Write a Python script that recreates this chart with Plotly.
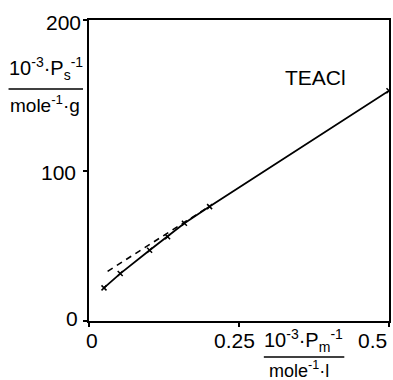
import plotly.graph_objects as go

# ---- data ----
solid_x = [0.025, 0.052, 0.101, 0.131, 0.159, 0.201, 0.5]
solid_y = [22, 31.5, 47, 56, 65, 76, 153]
dash_x = [0.031, 0.20]
dash_y = [33, 76]
x_tick_vals = [0, 0.25, 0.5]
x_tick_text = ["0", "0.25", "0.5"]
y_tick_vals = [0, 100, 200]
y_tick_text = ["0", "100", "200"]
label_text = "TEACl"

# ---- layout geometry ----
W, H = 393, 380
L, R, T, B = 89, 2, 20, 59
PW, PH = W - L - R, H - T - B
FONT = "Liberation Sans, Arial, sans-serif"
TS = 21

def px(xp):
    return (xp - L) / PW

def py(yp):
    return (H - B - yp) / PH

fig = go.Figure()
fig.add_trace(go.Scatter(x=dash_x, y=dash_y, mode="lines",
                         line=dict(color="black", width=1.6, dash="6px,5px"),
                         hoverinfo="skip"))
fig.add_trace(go.Scatter(x=solid_x, y=solid_y, mode="lines+markers",
                         line=dict(color="black", width=1.8),
                         marker=dict(symbol="x-thin", size=5, color="black",
                                     line=dict(color="black", width=1.5)),
                         hoverinfo="skip"))

annotations = []
# x tick labels
x_shift = [3, -5, 0]
x_anchor = ["center", "center", "right"]
for v, t, s, a in zip(x_tick_vals, x_tick_text, x_shift, x_anchor):
    annotations.append(dict(x=v, y=0, xref="x", yref="paper", text=t, showarrow=False,
                            xanchor=a, yanchor="middle", xshift=s, yshift=-19,
                            font=dict(family=FONT, size=TS, color="black")))
# y tick labels
y_xshift = [-9, -11, -6]
y_yshift = [3, -2, -2]
for v, t, xs, ys in zip(y_tick_vals, y_tick_text, y_xshift, y_yshift):
    annotations.append(dict(x=0, y=v, xref="paper", yref="y", text=t, showarrow=False,
                            xanchor="right", yanchor="middle", xshift=xs, yshift=ys,
                            font=dict(family=FONT, size=TS, color="black")))
# series label
annotations.append(dict(x=px(317), y=py(77), xref="paper", yref="paper", text=label_text,
                        showarrow=False, xanchor="center", yanchor="middle",
                        font=dict(family=FONT, size=TS, color="black")))
# y axis title (fraction)
annotations.append(dict(x=px(46), y=py(68), xref="paper", yref="paper",
                        text="10<sup>-3</sup>·P<sub>s</sub><sup>-1</sup>",
                        showarrow=False, xanchor="center", yanchor="middle",
                        font=dict(family=FONT, size=20, color="black")))
annotations.append(dict(x=px(45), y=py(104), xref="paper", yref="paper",
                        text="mole<sup>-1</sup>·g",
                        showarrow=False, xanchor="center", yanchor="middle",
                        font=dict(family=FONT, size=19, color="black")))
# x axis title (fraction)
annotations.append(dict(x=px(305), y=py(340), xref="paper", yref="paper",
                        text="10<sup>-3</sup>·P<sub>m</sub><sup>-1</sup>",
                        showarrow=False, xanchor="center", yanchor="middle",
                        font=dict(family=FONT, size=20, color="black")))
annotations.append(dict(x=px(300), y=py(369), xref="paper", yref="paper",
                        text="mole<sup>-1</sup>·l",
                        showarrow=False, xanchor="center", yanchor="middle",
                        font=dict(family=FONT, size=18, color="black")))

shapes = [
    dict(type="line", xref="paper", yref="paper", x0=px(8), x1=px(83), y0=py(89), y1=py(89),
         line=dict(color="black", width=1.5)),
    dict(type="line", xref="paper", yref="paper", x0=px(265), x1=px(346), y0=py(357), y1=py(357),
         line=dict(color="black", width=1.5)),
]

fig.update_layout(
    width=W, height=H,
    margin=dict(l=L, r=R, t=T, b=B, pad=0),
    paper_bgcolor="white", plot_bgcolor="white",
    showlegend=False,
    annotations=annotations, shapes=shapes,
    xaxis=dict(range=[0, 0.5], tickvals=x_tick_vals, showticklabels=False,
               ticks="outside", ticklen=4, tickwidth=1.5, tickcolor="black",
               showline=True, linecolor="black", linewidth=2, mirror=True,
               showgrid=False, zeroline=False, fixedrange=True),
    yaxis=dict(range=[0, 200], tickvals=y_tick_vals, showticklabels=False,
               ticks="outside", ticklen=4, tickwidth=1.5, tickcolor="black",
               showline=True, linecolor="black", linewidth=2, mirror=True,
               showgrid=False, zeroline=False, fixedrange=True),
)

fig.write_html("out.html")
